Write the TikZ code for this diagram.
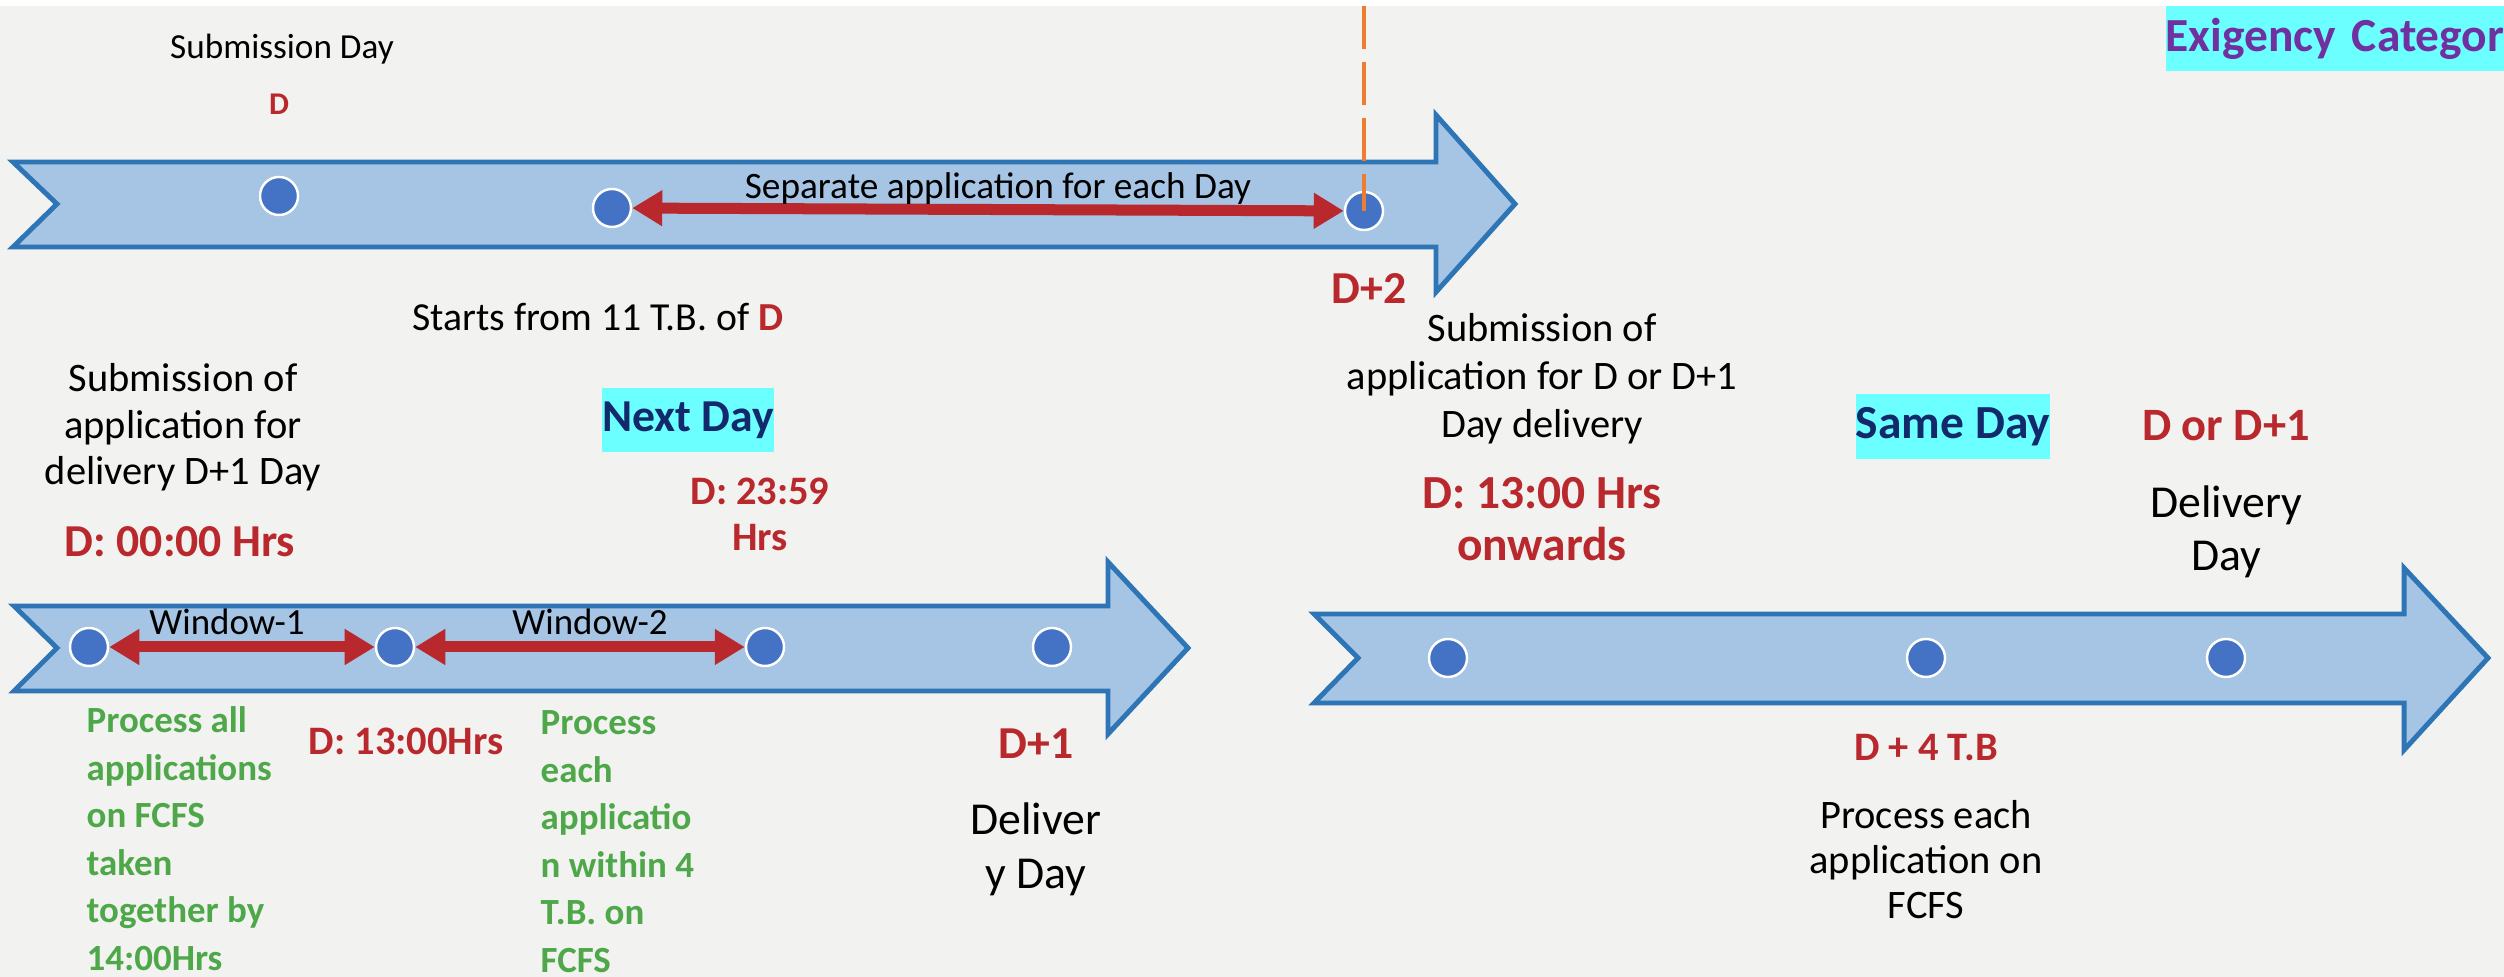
\documentclass[tikz,border=0pt]{standalone}
\usepackage{fontspec}
\setmainfont{Carlito}
\usetikzlibrary{arrows.meta}
\definecolor{paper}{HTML}{F2F2F0}
\definecolor{bandfill}{HTML}{A6C4E3}
\definecolor{bandline}{HTML}{2E75B6}
\definecolor{dotblue}{HTML}{4472C4}
\definecolor{tred}{HTML}{B8282C}
\definecolor{tgreen}{HTML}{4EA84A}
\definecolor{navy}{HTML}{12296B}
\definecolor{tagcyan}{HTML}{6CFFFF}
\definecolor{tpurple}{HTML}{7030A0}
\definecolor{cutorange}{HTML}{ED7D31}
\tikzset{
	band/.style={fill=bandfill, draw=bandline, line width=1.4pt, line join=miter},
	dot/.style={circle, fill=dotblue, draw=white, line width=0.7pt, minimum size=0.38cm, inner sep=0pt},
	note/.style={anchor=base, inner sep=0pt, align=center, font=\fontsize{11.5}{13.3}\selectfont},
	when/.style={anchor=base, inner sep=0pt, align=center, text=tred, font=\bfseries\fontsize{11.5}{13.1}\selectfont},
	% green processing notes under the first time line
	task/.style={anchor=base west, inner sep=0pt, align=left, text=tgreen, font=\bfseries\fontsize{10.5}{13.5}\selectfont},
	tag/.style={fill=tagcyan, text=navy, inner sep=0pt, minimum height=0.64cm, font=\bfseries\fontsize{13.2}{15}\selectfont},
	window/.style={draw=tred, line width=0.11cm, {Triangle[length=0.3cm,width=0.34cm]}-{Triangle[length=0.3cm,width=0.34cm]}},
}

\begin{document}
\begin{tikzpicture}[x=0.01cm, y=-0.01cm]
		
		\useasboundingbox (0,0) rectangle (2504,977);
		\fill[paper] (0,0) rectangle (2504,977);
		\fill[white] (0,0) rectangle (2504,6);
		
		% time lines
		\draw[band] (13,162) -- (1436,162) -- (1436,115) -- (1515,204) -- (1436,292) -- (1436,247) -- (13,247) -- (57,204) -- cycle;
		\draw[band] (14,606) -- (1108,606) -- (1108,562) -- (1188,648) -- (1108,734) -- (1108,691) -- (14,691) -- (57,648) -- cycle;
		\draw[band] (1314,614) -- (2404,614) -- (2404,568) -- (2488,658) -- (2404,750) -- (2404,703) -- (1314,703) -- (1358,658) -- cycle;
		
		\node (t1) [dot] at (279,196) {};
		\node (t2) [dot] at (612,208) {};
		\node (t3) [dot] at (1364,211) {};
		
		\node (l1) [dot] at (89,647) {};
		\node (l2) [dot] at (395,647) {};
		\node (l3) [dot] at (765,647) {};
		\node (l4) [dot] at (1052,647) {};
		
		\node (r1) [dot] at (1448,658) {};
		\node (r2) [dot] at (1926,658) {};
		\node (r3) [dot] at (2226,658) {};
		
		\begin{scope}[window]
			\draw (t2) -- (t3) node (sep) [midway, anchor=base, yshift=0.11cm, xshift=0.1cm, text=black, font=\fontsize{10.6}{12}\selectfont] {Separate application for each Day};
			\draw (l1) -- (l2) node (win1) [midway, anchor=base, yshift=0.12cm, xshift=-0.15cm, text=black, font=\fontsize{10.5}{12}\selectfont] {Window-1};
			\draw (l2) -- (l3) node (win2) [midway, anchor=base, yshift=0.12cm, xshift=0.1cm, text=black, font=\fontsize{10.5}{12}\selectfont] {Window-2};
		\end{scope}
		
		\coordinate (cut) at (1364,6);
		\draw[cutorange, line width=0.9pt, dash pattern=on 0.43cm off 0.13cm] (cut) -- (t3.center);
		
		% top line
		\node (subday) [note, font=\fontsize{10}{12}\selectfont] at (282,59) {Submission Day};
		\node (dday) [when, font=\bfseries\fontsize{9}{11}\selectfont] at (279,115) {D};
		\node (dtwo) [when, font=\bfseries\fontsize{13}{15}\selectfont] at (1369,304) {D+2};
		\node (starts) [note, font=\fontsize{11.3}{13}\selectfont] at (598,331) {Starts from 11 T.B. of \textcolor{tred}{\textbf{D}}};
		
		\node (exig) [anchor=west, fill=tagcyan, text=tpurple, inner sep=0pt, minimum height=0.65cm, text width=3.39cm, align=left, font=\bfseries\fontsize{13.5}{15}\selectfont] at (2165,38.5) {Exigency Categor};
		
		% next day
		\node (subnext) [note] at (183,485) {Submission of\\application for\\delivery D+1 Day};
		\node (dzero) [when, font=\bfseries\fontsize{13}{15}\selectfont] at (180,557) {D: 00:00 Hrs};
		\node (nextday) [tag, font=\bfseries\fontsize{13}{15}\selectfont] at (688,420) {Next Day};
		\node (dlast) [when] at (760,551) {D: 23:59\\Hrs};
		\node (dthirteen) [when] at (406,755) {D: 13:00Hrs};
		\node (fcfsall) [task] at (86,970) {Process all\\applications\\on FCFS\\taken\\together by\\14:00Hrs};
		\node (fcfseach) [task] at (540,972) {Process\\each\\applicatio\\n within 4\\T.B. on\\FCFS};
		\node (done) [when, font=\bfseries\fontsize{13}{15}\selectfont] at (1036,759) {D+1};
		\node (delnext) [note, font=\fontsize{13}{15.4}\selectfont] at (1036,889) {Deliver\\y Day};
		
		% same day
		\node (subsame) [note, font=\fontsize{11.5}{13.65}\selectfont] at (1542,438) {Submission of\\application for D or D+1\\Day delivery};
		\node (donward) [when, font=\bfseries\fontsize{13.5}{14.8}\selectfont] at (1542,561) {D: 13:00 Hrs\\onwards};
		\node (sameday) [tag, font=\bfseries\fontsize{13.5}{15}\selectfont] at (1953,426.5) {Same Day};
		\node (dor) [when, font=\bfseries\fontsize{13.2}{15}\selectfont] at (2226,441) {D or D+1};
		\node (delsame) [note, font=\fontsize{13}{15.1}\selectfont] at (2226,571) {Delivery\\Day};
		\node (dfour) [when] at (1926,761) {D + 4 T.B};
		\node (fcfsone) [note, font=\fontsize{11.5}{12.9}\selectfont] at (1926,919) {Process each\\application on\\FCFS};
		
	\end{tikzpicture}
\end{document}
